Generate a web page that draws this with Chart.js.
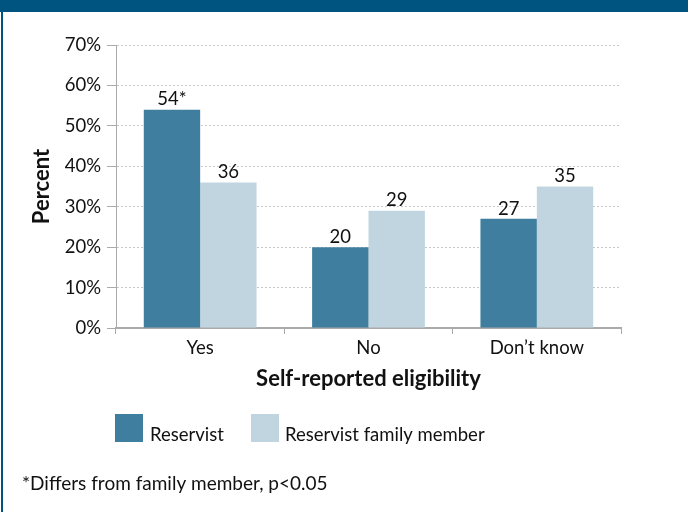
<!DOCTYPE html>
<html>
<head>
<meta charset="utf-8">
<script src="https://cdn.jsdelivr.net/npm/chart.js@4"></script>
<style>
  body { margin: 0; background: #fff; }
  #wrap { position: relative; width: 688px; height: 512px; }
</style>
</head>
<body>
<div id="wrap"><canvas id="chart" width="688" height="512"></canvas></div>
<script>
const categories = ["Yes", "No", "Don\u2019t know"];
const reservist = [54, 20, 27];
const familyMember = [36, 29, 35];
const reservistLabels = ["54*", "20", "27"];
const familyLabels = ["36", "29", "35"];
const yTicks = [0, 10, 20, 30, 40, 50, 60, 70];
const seriesNames = ["Reservist", "Reservist family member"];
const footnote = "*Differs from family member, p<0.05";

const FONT = "Lato, 'Open Sans', sans-serif";
const DARK = "#3f7e9e";
const LIGHT = "#c1d5e0";
const FRAME = "#005580";

// frame, value labels, legend and footnote
const extras = {
    id: "extras",
    beforeDraw(chart) {
        const ctx = chart.ctx;
        ctx.save();
        ctx.fillStyle = "#fff";
        ctx.fillRect(0, 0, chart.width, chart.height);
        ctx.fillStyle = FRAME;
        ctx.fillRect(0, 0, chart.width, 12);
        ctx.fillRect(1, 0, 2, chart.height);
        ctx.restore();
    },
    afterDatasetsDraw(chart) {
        const ctx = chart.ctx;
        ctx.save();
        ctx.font = "18.5px " + FONT;
        ctx.fillStyle = "#111";
        ctx.textAlign = "center";
        ctx.textBaseline = "bottom";
        const lbls = [reservistLabels, familyLabels];
        chart.data.datasets.forEach((ds, i) => {
            chart.getDatasetMeta(i).data.forEach((bar, j) => {
                ctx.fillText(lbls[i][j], bar.x, bar.y - 1);
            });
        });
        ctx.restore();
    },
    afterDraw(chart) {
        const ctx = chart.ctx;
        ctx.save();
        ctx.fillStyle = "#111";
        ctx.textBaseline = "alphabetic";
        // legend
        ctx.fillStyle = DARK;
        ctx.fillRect(115, 414, 28, 28);
        ctx.fillStyle = LIGHT;
        ctx.fillRect(251, 414, 28, 28);
        ctx.fillStyle = "#111";
        ctx.font = "18.5px " + FONT;
        ctx.fillText(seriesNames[0], 150, 441);
        ctx.fillText(seriesNames[1], 285, 441);
        // footnote
        ctx.font = "19px " + FONT;
        ctx.fillText(footnote, 22, 490);
        ctx.restore();
    }
};

const ctx = document.getElementById("chart").getContext("2d");
const myChart = new Chart(ctx, {
    type: "bar",
    data: {
        labels: categories,
        datasets: [{
            label: seriesNames[0],
            data: reservist,
            backgroundColor: DARK,
            categoryPercentage: 0.67,
            barPercentage: 1.0,
        }, {
            label: seriesNames[1],
            data: familyMember,
            backgroundColor: LIGHT,
            categoryPercentage: 0.67,
            barPercentage: 1.0,
        }],
    },
    options: {
        responsive: false,
        animation: false,
        layout: {
            padding: { top: 45, right: 67, bottom: 120, left: 0 }
        },
        plugins: {
            legend: { display: false },
            tooltip: { enabled: false },
        },
        scales: {
            x: {
                afterFit: (s) => { s.height = 64; },
                grid: {
                    offset: true,
                    drawOnChartArea: false,
                    tickLength: 6,
                    color: "#aaa",
                },
                border: { color: "#aaa", width: 2 },
                ticks: {
                    color: "#111",
                    padding: 3,
                    font: { family: FONT, size: 18.5 },
                },
                title: {
                    display: true,
                    text: "Self-reported eligibility",
                    color: "#111",
                    padding: { top: 0, bottom: 0 },
                    font: { family: FONT, size: 22, weight: "bold" },
                },
            },
            y: {
                min: 0,
                max: 70,
                afterFit: (s) => { s.width = 116; },
                afterBuildTicks: (s) => { s.ticks = yTicks.map(v => ({ value: v })); },
                grid: {
                    color: "#c8c8c8",
                    tickColor: "#aaa",
                    tickLength: 9,
                },
                border: { color: "#aaa", width: 1, dash: [2, 2] },
                ticks: {
                    color: "#111",
                    padding: 6,
                    font: { family: FONT, size: 18.5 },
                    callback: (v) => v + "%",
                },
                title: {
                    display: true,
                    text: "Percent",
                    color: "#111",
                    padding: { top: 29, bottom: 0 },
                    font: { family: FONT, size: 22, weight: "bold" },
                },
            },
        },
    },
    plugins: [extras],
});
</script>
</body>
</html>
